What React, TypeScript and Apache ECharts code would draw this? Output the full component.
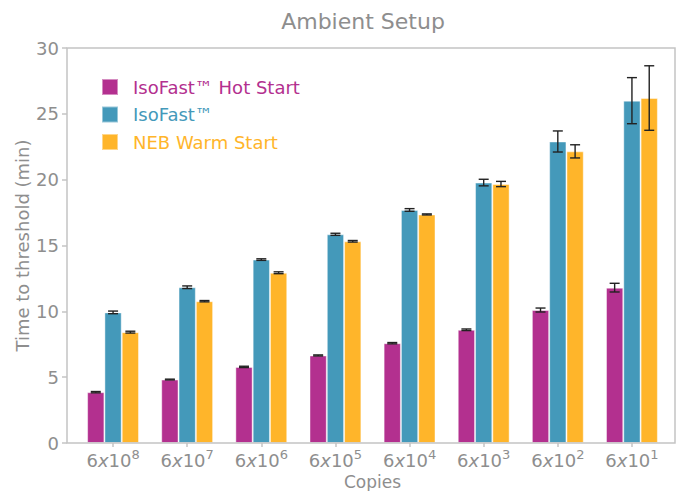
import React, { useEffect, useRef } from "react";
import * as echarts from "echarts";

const categories = ["8", "7", "6", "5", "4", "3", "2", "1"];
const seriesNames = ["IsoFast™ Hot Start", "IsoFast™", "NEB Warm Start"];
const hotStart = [3.86, 4.82, 5.78, 6.65, 7.58, 8.6, 10.1, 11.8];
const isoFast = [9.92, 11.83, 13.93, 15.85, 17.7, 19.78, 22.9, 26.0];
const nebWarm = [8.42, 10.77, 12.93, 15.32, 17.36, 19.67, 22.15, 26.2];
const hotStartErr = [0.05, 0.03, 0.05, 0.04, 0.05, 0.06, 0.15, 0.33];
const isoFastErr = [0.1, 0.1, 0.06, 0.08, 0.1, 0.25, 0.8, 1.75];
const nebWarmErr = [0.07, 0.05, 0.07, 0.06, 0.04, 0.2, 0.5, 2.45];
const yTicks = [0, 5, 10, 15, 20, 25, 30];

const colors = ["#B3308F", "#4499BA", "#FFB52A"];
const FONT = "DejaVu Sans";
const GREY = "#8e8e8e";
const FRAME = "#c4c4c4";
const BAR_FRAC = 0.2333;

export default function App() {
  const ref = useRef<HTMLDivElement>(null);
  useEffect(() => {
    if (!ref.current) return;
    const chart = echarts.init(ref.current, null, { renderer: "svg" });
    const values = [hotStart, isoFast, nebWarm];
    const errs = [hotStartErr, isoFastErr, nebWarmErr];

    const barSeries = seriesNames.map((name, s) => ({
      name,
      type: "bar",
      data: values[s],
      barWidth: (BAR_FRAC * 100).toFixed(2) + "%",
      barGap: "0%",
      itemStyle: {
        color: colors[s],
        borderColor: "rgba(255,255,255,0.45)",
        borderWidth: 1,
      },
      z: 2,
    }));

    const errSeries = seriesNames.map((name, s) => ({
      name: name + " err",
      type: "custom",
      z: 5,
      data: values[s].map((v, i) => [i, v, errs[s][i]]),
      encode: { x: 0, y: 1 },
      renderItem: (params: any, api: any) => {
        const i = api.value(0);
        const v = api.value(1);
        const e = api.value(2);
        const band = api.size([1, 0])[0];
        const off = (s - 1) * band * BAR_FRAC;
        const top = api.coord([i, v + e]);
        const bot = api.coord([i, v - e]);
        const x = top[0] + off;
        const style = { stroke: "#222", lineWidth: 1.4 };
        const hw = 5;
        return {
          type: "group",
          children: [
            { type: "line", shape: { x1: x, y1: top[1], x2: x, y2: bot[1] }, style },
            { type: "line", shape: { x1: x - hw, y1: top[1], x2: x + hw, y2: top[1] }, style },
            { type: "line", shape: { x1: x - hw, y1: bot[1], x2: x + hw, y2: bot[1] }, style },
          ],
        };
      },
    }));

    chart.setOption({
      animation: false,
      textStyle: { fontFamily: FONT },
      grid: { left: 76, right: 8, top: 48, bottom: 48, containLabel: false, outerBoundsMode: "none" },
      legend: {
        orient: "vertical",
        left: 96,
        top: 73,
        itemWidth: 16,
        itemHeight: 16,
        itemGap: 9.5,
        icon: "rect",
        data: seriesNames.map((n, s) => ({
          name: n,
          textStyle: { color: colors[s] },
        })),
        textStyle: {
          fontFamily: FONT,
          fontSize: 18,
          padding: [0, 0, 0, 10],
        },
        selectedMode: false,
      },
      xAxis: {
        type: "category",
        data: categories,
        name: "Copies",
        nameLocation: "middle",
        nameGap: 31,
        nameMoveOverlap: false,
        nameTextStyle: { fontSize: 17, color: GREY, fontFamily: FONT, lineHeight: 15 },
        axisLine: { show: false },
        axisTick: { show: true, interval: 0, alignWithLabel: true, length: 4, lineStyle: { color: FRAME, width: 1.5 } },
        axisLabel: {
          interval: 0,
          margin: 5,
          hideOverlap: false,
          formatter: (c: string) => `{n|6}{i|x}{n|10}{s|${c}}`,
          rich: {
            n: { fontSize: 18, color: GREY, fontFamily: FONT, lineHeight: 24 },
            i: { fontSize: 18, color: GREY, fontFamily: FONT, fontStyle: "italic", lineHeight: 24 },
            s: { fontSize: 13, color: GREY, fontFamily: FONT, lineHeight: 13, verticalAlign: "top" },
          },
        },
      },
      yAxis: {
        type: "value",
        min: yTicks[0],
        max: yTicks[yTicks.length - 1],
        interval: 5,
        offset: 9,
        name: "Time to threshold (min)",
        nameLocation: "middle",
        nameGap: 36,
        nameMoveOverlap: false,
        nameTextStyle: { fontSize: 18, color: GREY, fontFamily: FONT },
        axisLine: { show: false },
        axisTick: { show: true, length: 5, lineStyle: { color: FRAME, width: 1.5 } },
        splitLine: { show: false },
        axisLabel: { fontSize: 18, color: GREY, fontFamily: FONT, margin: 8 },
      },
      graphic: [
        {
          type: "rect",
          z: 10,
          silent: true,
          shape: { x: 67, y: 48, width: 608, height: 395 },
          style: { fill: "none", stroke: FRAME, lineWidth: 1.5 },
        },
        {
          type: "text",
          x: 363,
          y: 21,
          style: {
            text: "Ambient Setup",
            fontSize: 22,
            fontFamily: FONT,
            fill: GREY,
            textAlign: "center",
            textVerticalAlign: "middle",
          },
        },
      ],
      series: [...barSeries, ...errSeries],
    });
    return () => chart.dispose();
  }, []);
  return <div ref={ref} style={{ width: 677, height: 491, position: "absolute", left: 0, top: 0 }} />;
}
